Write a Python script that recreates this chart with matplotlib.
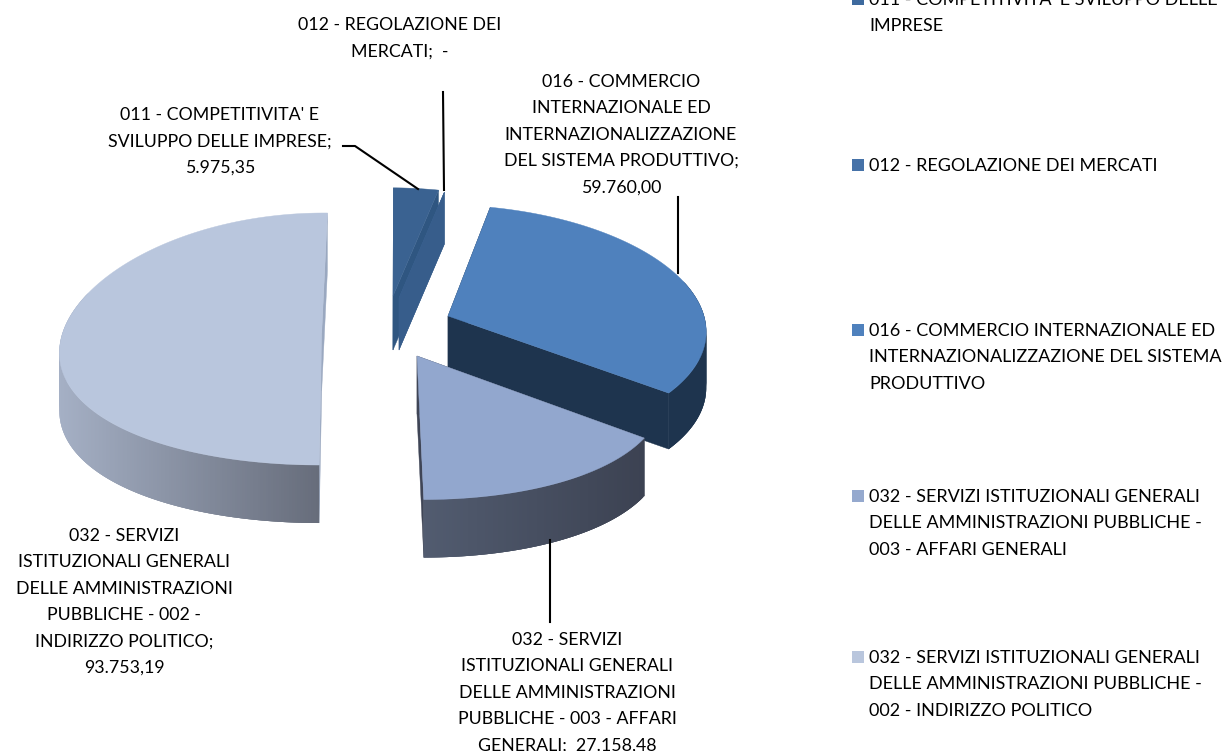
import numpy as np
import matplotlib
matplotlib.use('Agg')
import matplotlib.pyplot as plt

plt.rcParams['font.family'] = ['Lato', 'DejaVu Sans']

# Data
categorie = ["011 - COMPETITIVITA' E SVILUPPO DELLE IMPRESE",
             "012 - REGOLAZIONE DEI MERCATI",
             "016 - COMMERCIO INTERNAZIONALE ED INTERNAZIONALIZZAZIONE DEL SISTEMA PRODUTTIVO",
             "032 - SERVIZI ISTITUZIONALI GENERALI DELLE AMMINISTRAZIONI PUBBLICHE - 003 - AFFARI GENERALI",
             "032 - SERVIZI ISTITUZIONALI GENERALI DELLE AMMINISTRAZIONI PUBBLICHE - 002 - INDIRIZZO POLITICO"]
valori = [5975.35, 0, 59760.00, 27158.48, 93753.19]
righe_etichette = [["011 - COMPETITIVITA' E", "SVILUPPO DELLE IMPRESE;"],
                   ["012 - REGOLAZIONE DEI", "MERCATI;"],
                   ["016 - COMMERCIO", "INTERNAZIONALE ED", "INTERNAZIONALIZZAZIONE", "DEL SISTEMA PRODUTTIVO;"],
                   ["032 - SERVIZI", "ISTITUZIONALI GENERALI", "DELLE AMMINISTRAZIONI", "PUBBLICHE - 003 - AFFARI", "GENERALI;"],
                   ["032 - SERVIZI", "ISTITUZIONALI GENERALI", "DELLE AMMINISTRAZIONI", "PUBBLICHE - 002 -", "INDIRIZZO POLITICO;"]]
righe_legenda = [["011 - COMPETITIVITA' E SVILUPPO DELLE", "IMPRESE"],
                 ["012 - REGOLAZIONE DEI MERCATI"],
                 ["016 - COMMERCIO INTERNAZIONALE ED", "INTERNAZIONALIZZAZIONE DEL SISTEMA", "PRODUTTIVO"],
                 ["032 - SERVIZI ISTITUZIONALI GENERALI", "DELLE AMMINISTRAZIONI PUBBLICHE -", "003 - AFFARI GENERALI"],
                 ["032 - SERVIZI ISTITUZIONALI GENERALI", "DELLE AMMINISTRAZIONI PUBBLICHE -", "002 - INDIRIZZO POLITICO"]]

# Style / layout, one entry per slice
col_faccia = ['#3a6291', '#3a6291', '#4f81bd', '#92a7ce', '#b9c6dd']
col_taglio = ['#2f5681', '#375d8b', '#1e344e', '#3f4556', '#9aa8c0']
col_parete_sx = ['#375d8b', '#375d8b', '#1e344e', '#525c70', '#a5b0c5']
col_parete_dx = ['#375d8b', '#375d8b', '#1e344e', '#3c4252', '#656b79']
col_legenda = ['#3e6a9e', '#4672a8', '#4f81bd', '#95a9ce', '#b9c6dd']
# cx, cy, rx, ry, p, q, s, depth
geometria = [(393, 296, 283, 119, 0.26, 0.10, -3, 54),
             (399, 298, 265, 119, 0.26, 0.10, 0, 52),
             (448, 316, 256, 120, 0.10, 0.08, -8, 56),
             (417, 356, 237, 122, 0.26, 0.15, -7, 58),
             (321.7, 332.7, 259, 125.7, 0.15, 0.05, 2.3, 58)]
ordine = [4, 0, 1, 2, 3]
inizio = 0.87  # degrees clockwise from the top
FONT_ETICHETTE = 12.8
FONT_LEGENDA = 13.0
PASSO = 26.3


def punti(i, ang):
    cx, cy, rx, ry, p, q, s, d = geometria[i]
    u, v = np.sin(np.radians(ang)), np.cos(np.radians(ang))
    return cx + rx * u / (1 + p * v) + s * v, cy - ry * v / (1 + q * v)


def mescola(c1, c2, t):
    a = np.array(matplotlib.colors.to_rgb(c1))
    b = np.array(matplotlib.colors.to_rgb(c2))
    return tuple(a + (b - a) * t)


def formato(v):
    if v == 0:
        return '-'
    return f'{v:,.2f}'.replace(',', 'X').replace('.', ',').replace('X', '.')


fig = plt.figure(figsize=(12.25, 7.51), dpi=100)
ax = fig.add_axes([0, 0, 1, 1])
ax.set_xlim(0, 1225)
ax.set_ylim(751, 0)
ax.axis('off')

fine = inizio + np.cumsum(valori) / np.sum(valori) * 360
iniz = np.r_[inizio, fine[:-1]]

for i in ordine:
    cx, cy, rx, ry, p, q, s, d = geometria[i]
    a = np.linspace(iniz[i], fine[i], max(int(fine[i] - iniz[i]) * 2, 2))
    x, y = punti(i, a)
    # cut faces
    for ang in (iniz[i], fine[i]):
        xc, yc = punti(i, ang)
        ax.fill([cx, xc, xc, cx], [cy, yc, yc + d, cy + d], color=col_taglio[i], lw=0.3)
    # outer wall, shaded along x; strips overlap so no seams show
    xmin, xmax = x.min(), x.max()
    n = len(a)
    for k in range(n - 1):
        if np.cos(np.radians(a[k])) > 0.3:
            continue
        t = (x[k] - xmin) / max(xmax - xmin, 1)
        c = mescola(col_parete_sx[i], col_parete_dx[i], t)
        k2 = min(k + 3, n - 1)
        ax.fill(np.r_[x[k:k2 + 1], x[k:k2 + 1][::-1]], np.r_[y[k:k2 + 1], y[k:k2 + 1][::-1] + d],
                color=c, lw=0)
    # top face
    ax.fill(np.r_[cx, x], np.r_[cy, y], color=col_faccia[i], lw=0.3)

# Leader lines
ax.plot([343, 355, 418], [146, 146, 189], color='black', lw=1.5)
ax.plot([443, 444], [92, 190], color='black', lw=1.5)
ax.plot([678, 678], [197, 273], color='black', lw=1.5)
ax.plot([550, 550], [540, 622], color='black', lw=1.5)

# Data labels
pos_etichette = [(220, 115), (400, 25), (621, 82), (567, 640), (124, 536)]
for i, (xt, yt) in enumerate(pos_etichette):
    righe = list(righe_etichette[i])
    if valori[i] == 0 or i == 3:
        righe[-1] += '  ' + formato(valori[i])
    else:
        righe.append(formato(valori[i]))
    for j, r in enumerate(righe):
        ax.text(xt, yt + j * PASSO, r, ha='center', va='center', fontsize=FONT_ETICHETTE, color='black')

# Legend
pos_legenda = [-1, 165, 330, 496, 657]
for i, yt in enumerate(pos_legenda):
    ax.fill([852, 864, 864, 852], [yt - 6, yt - 6, yt + 6, yt + 6], color=col_legenda[i], lw=0)
    for j, r in enumerate(righe_legenda[i]):
        ax.text(869, yt + 1 + j * PASSO, r, ha='left', va='center', fontsize=FONT_LEGENDA, color='black')

fig.savefig('out.png', dpi=100)
